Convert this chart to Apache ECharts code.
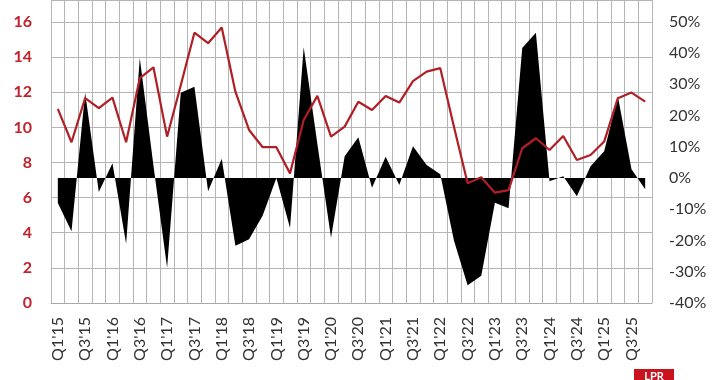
<!DOCTYPE html>
<html><head><meta charset="utf-8">
<script src="https://cdn.jsdelivr.net/npm/echarts@6/dist/echarts.min.js"></script>
<style>html,body{margin:0;padding:0;background:#fff}#c{width:720px;height:380px}</style>
</head><body><div id="c"></div>
<script>
const categories = ["Q1'15","Q2'15","Q3'15","Q4'15","Q1'16","Q2'16","Q3'16","Q4'16","Q1'17","Q2'17","Q3'17","Q4'17",
"Q1'18","Q2'18","Q3'18","Q4'18","Q1'19","Q2'19","Q3'19","Q4'19","Q1'20","Q2'20","Q3'20","Q4'20",
"Q1'21","Q2'21","Q3'21","Q4'21","Q1'22","Q2'22","Q3'22","Q4'22","Q1'23","Q2'23","Q3'23","Q4'23",
"Q1'24","Q2'24","Q3'24","Q4'24","Q1'25","Q2'25","Q3'25","Q4'25"];
const lineValues = [11.05,9.15,11.66,11.09,11.69,9.15,12.8,13.42,9.47,12.4,15.39,14.79,
15.68,12.03,9.85,8.87,8.87,7.38,10.42,11.79,9.47,10.04,11.46,10.99,
11.79,11.41,12.63,13.17,13.37,10.04,6.82,7.16,6.28,6.43,8.81,9.38,
8.71,9.51,8.14,8.43,9.19,11.66,11.98,11.46];
const growthValues = [-8,-17,27.3,-4.5,4.7,-21,38.4,4,-28.7,27.3,29.2,-4.2,
6.2,-21.7,-19.6,-12,0,-16,41.9,11,-19.1,7,13.1,-3.1,
6.8,-2.2,10.2,4.2,1.2,-20,-34.3,-31.3,-7.9,-9.7,41.6,46.5,
-1,0.6,-5.8,3.8,8.6,26.2,2.8,-3.6];
const leftTicks = {min:0, max:17.25, interval:2};
const rightTicks = {min:-40, max:57, interval:10};

const chart = echarts.init(document.getElementById('c'), null, {renderer:'canvas'});
chart.setOption({
  animation:false,
  backgroundColor:'#fff',
  grid:{left:51, right:68, top:0, bottom:77, containLabel:false},
  xAxis:{type:'category', data:categories, boundaryGap:true,
    axisLine:{show:true, lineStyle:{color:'#aaa'}},
    axisTick:{show:false},
    splitLine:{show:true, interval:0, lineStyle:{color:'#b5b5b5', width:1}},
    axisLabel:{interval:1, rotate:90, margin:14, color:'#333', fontFamily:'Lato', fontSize:16}},
  yAxis:[
    {type:'value', min:leftTicks.min, max:leftTicks.max, interval:leftTicks.interval, position:'left',
     axisLine:{show:false}, axisTick:{show:false},
     splitLine:{show:true, lineStyle:{color:'#b5b5b5', width:1}},
     axisLabel:{showMaxLabel:false, margin:19, color:'#c0232c', fontWeight:'bold', fontFamily:'Lato', fontSize:16}},
    {type:'value', min:rightTicks.min, max:rightTicks.max, interval:rightTicks.interval, position:'right',
     axisLine:{show:false}, axisTick:{show:false}, splitLine:{show:false},
     axisLabel:{showMaxLabel:false, margin:17, color:'#333', fontFamily:'Lato', fontSize:16,
       formatter:v=>v+'%'}}
  ],
  series:[
    {type:'line', yAxisIndex:1, data:growthValues, symbol:'none', lineStyle:{width:0, color:'#000'},
     areaStyle:{color:'#000', opacity:1, origin:0}, z:2},
    {type:'line', yAxisIndex:0, data:lineValues, symbol:'none', lineStyle:{width:2.2, color:'#b01e26'}, z:3}
  ],
  graphic:[
    {type:'rect', shape:{x:634, y:369, width:40, height:14}, style:{fill:'#c8141e'}},
    {type:'text', style:{x:654, y:371, text:'LPR', fill:'#fff', font:'bold 11px Lato', align:'center'}}
  ]
});
</script></body></html>
